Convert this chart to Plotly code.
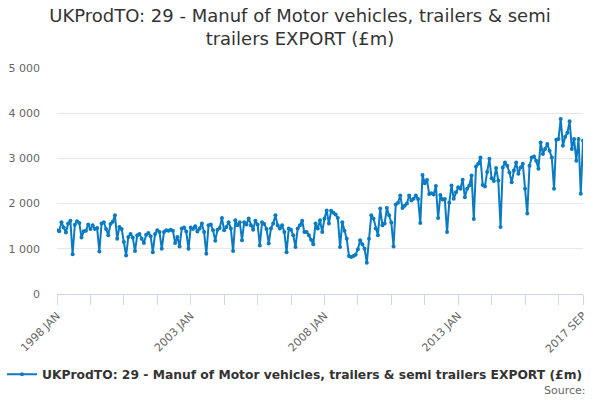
import plotly.graph_objects as go

SERIES_NAME = "UKProdTO: 29 - Manuf of Motor vehicles, trailers & semi trailers EXPORT (£m)"
TITLE = "UKProdTO: 29 - Manuf of Motor vehicles, trailers & semi<br>trailers EXPORT (£m)"
MONTHS = ["JAN", "FEB", "MAR", "APR", "MAY", "JUN", "JUL", "AUG", "SEP", "OCT", "NOV", "DEC"]
YEARS = list(range(1998, 2018))

v1998 = [1410, 1390, 1590, 1470, 1360, 1560, 1620, 880, 1530, 1610, 1570, 1250]
v1999 = [1390, 1400, 1540, 1440, 1520, 1440, 1460, 940, 1560, 1590, 1440, 1300]
v2000 = [1550, 1600, 1740, 1220, 1480, 1440, 1150, 850, 1260, 1330, 1250, 950]
v2001 = [1300, 1330, 1220, 1130, 1310, 1350, 1280, 925, 1330, 1410, 1370, 1000]
v2002 = [1370, 1410, 1400, 1420, 1400, 1130, 1260, 1050, 1450, 1470, 1380, 1000]
v2003 = [1470, 1440, 1500, 1380, 1450, 1560, 1370, 890, 1520, 1540, 1410, 1180]
v2004 = [1420, 1460, 1680, 1410, 1480, 1590, 1450, 950, 1630, 1520, 1590, 1190]
v2005 = [1590, 1540, 1670, 1520, 1420, 1620, 1540, 1075, 1590, 1550, 1440, 1120]
v2006 = [1450, 1560, 1740, 1520, 1450, 1520, 1370, 925, 1450, 1420, 1300, 1040]
v2007 = [1450, 1520, 1620, 1370, 1370, 1300, 1200, 1100, 1560, 1450, 1630, 1370]
v2008 = [1670, 1850, 1560, 1840, 1800, 1760, 1680, 1040, 1590, 1400, 1220, 840]
v2009 = [820, 840, 870, 990, 1190, 1100, 1000, 690, 1220, 1740, 1670, 1450]
v2010 = [1300, 1890, 1520, 1560, 1900, 1740, 1580, 1050, 1980, 2020, 2180, 1900]
v2011 = [1950, 2000, 2180, 2070, 2110, 2180, 2100, 1570, 2630, 2450, 2520, 2210]
v2012 = [2230, 2200, 2390, 1680, 2190, 2090, 2100, 1370, 2020, 2400, 2110, 2250]
v2013 = [2360, 2330, 2530, 2140, 2330, 2400, 2620, 1660, 2820, 2880, 3020, 2410]
v2014 = [2380, 2700, 2990, 2560, 2500, 2790, 2510, 1480, 2800, 2910, 2840, 2690]
v2015 = [2470, 2730, 2910, 2660, 2800, 2880, 2330, 1780, 2840, 3020, 3040, 2950]
v2016 = [2770, 3350, 3100, 3210, 3320, 3170, 3020, 2330, 3410, 3430, 3870, 3280]
v2017 = [3480, 3570, 3820, 3210, 3430, 2950, 3430, 2220, 3390]

values = (v1998 + v1999 + v2000 + v2001 + v2002 + v2003 + v2004 + v2005 + v2006 + v2007
          + v2008 + v2009 + v2010 + v2011 + v2012 + v2013 + v2014 + v2015 + v2016 + v2017)
categories = [f"{y} {m}" for y in YEARS for m in MONTHS][:len(values)]

LABELED = ["1998 JAN", "2003 JAN", "2008 JAN", "2013 JAN", "2017 SEP"]
Y_TICKS = [0, 1000, 2000, 3000, 4000, 5000]

idx = list(range(len(values)))
tick_idx = list(range(0, len(values), 15)) + [len(values) - 1]
tick_text = [categories[i] if categories[i] in LABELED else "" for i in tick_idx]

FONT = "DejaVu Sans"
COLOR = "#0b7bc1"

fig = go.Figure()
fig.add_trace(go.Scatter(
    x=idx, y=values, name=SERIES_NAME, mode="lines+markers",
    line=dict(color=COLOR, width=2),
    marker=dict(color=COLOR, size=4),
    text=categories, showlegend=True,
))

fig.update_layout(
    width=600, height=400,
    paper_bgcolor="white", plot_bgcolor="white",
    separators=". ",
    margin=dict(l=57, r=17, t=68, b=106, autoexpand=False),
    title=dict(text=TITLE, x=0.5, xanchor="center", y=0.9455, yanchor="top",
               font=dict(family=FONT, size=18, color="#333333")),
    font=dict(family=FONT, color="#666666", size=11),
    xaxis=dict(
        range=[0, len(values) - 1], tickmode="array", tickvals=tick_idx, ticktext=tick_text,
        tickangle=-45, ticks="outside", ticklen=10, tickcolor="#ccd6eb",
        showline=True, linecolor="#ccd6eb", linewidth=1, showgrid=False, zeroline=False,
        tickfont=dict(family=FONT, size=11, color="#666666"), automargin=False,
    ),
    yaxis=dict(
        range=[0, 5000], tickmode="array", tickvals=Y_TICKS, tickformat=",d",
        showgrid=True, gridcolor="#e6e6e6", zeroline=False, showline=False,
        tickfont=dict(family=FONT, size=11, color="#666666"), ticklabelstandoff=16,
        automargin=False,
    ),
    legend=dict(orientation="h", x=-0.1046, xanchor="left", y=-0.355, yanchor="middle",
                font=dict(family=FONT, size=12.3, color="#333333", weight="bold"),
                itemwidth=30),
    annotations=[dict(text="Source:", xref="paper", yref="paper", x=1.0095, y=-0.425,
                      xanchor="right", yanchor="middle", showarrow=False,
                      font=dict(family=FONT, size=11, color="#666666"))],
)

fig.write_html("out.html", post_script="document.body.style.margin='0';",
               config={"displayModeBar": False})
